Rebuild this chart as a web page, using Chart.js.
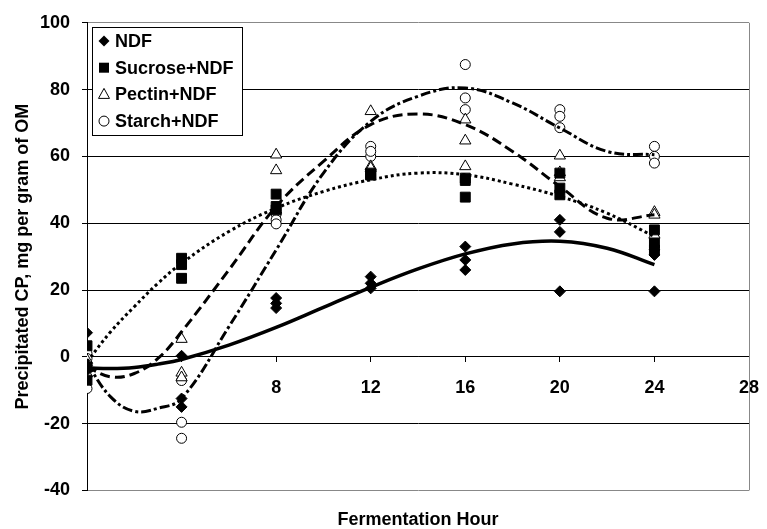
<!DOCTYPE html>
<html>
<head>
<meta charset="utf-8">
<script src="https://cdn.jsdelivr.net/npm/chart.js@4.4.1/dist/chart.umd.min.js"></script>
<style>
    html, body { margin: 0; padding: 0; background: #fff; }
</style>
</head>
<body>
<canvas id="myChart" width="767" height="529"></canvas>
<script>
const hours = [0, 4, 8, 12, 16, 20, 24];
const xTicks = [8, 12, 16, 20, 24, 28];
const seriesNames = ['NDF', 'Sucrose+NDF', 'Pectin+NDF', 'Starch+NDF'];

// replicate readings, one small array per hour
const ndfValues = [[7.2, -2.5, -4], [0.3, -12.5, -15], [17.6, 14.6, 16], [24, 22, 20.5], [33, 29, 26], [41, 37.4, 19.6], [32, 30.5, 19.6]];
const sucroseValues = [[3.3, -3, -7], [29.5, 27.6, 23.5], [48.7, 45, 44], [54.6, 55, 54.4], [52.8, 53.5, 47.8], [55, 50.5, 48.5], [38, 34, 32]];
const pectinValues = [[-1, -3, -5], [5.3, -4.8, -6.2], [60.5, 55.8, 44], [73.5, 57, 56.5], [71, 64.7, 57], [60.2, 55.2, 53.7], [43.3, 42.5, 36.5]];
const starchValues = [[1, -0.5, -9.5], [-7.1, -19.6, -24.4], [42.7, 41, 39.8], [63, 60, 61.5], [87.5, 77.5, 74], [74, 72, 68.6], [63, 60, 58]];

// trend lines
const trendHours = [0, 1, 2, 3, 4, 6, 8, 10, 12, 14, 16, 18, 20, 22, 24];
const ndfTrend = [-3.3, -3.5, -3.2, -2.2, -0.8, 3.5, 8.8, 14.8, 20.8, 26.3, 30.8, 33.8, 34.6, 32.5, 27.6];
const sucroseTrend = [-1.5, 7.5, 15, 22, 28, 37.5, 44.5, 49.5, 53, 55, 54.5, 51.7, 48, 43, 36];
const pectinTrend = [-3, -6, -5, -0.5, 7.5, 26, 45, 58.5, 69.5, 72.7, 69.5, 61.5, 51, 41.5, 42.5];
const starchTrend = [-2, -12, -16.3, -15.4, -12.5, 9, 32, 55, 70.5, 78, 80.5, 76, 68.5, 61.5, 60.5];

const fontFamily = '"Liberation Sans", Arial, sans-serif';
const boldFont = { family: fontFamily, size: 18, weight: 'bold' };


function toPoints(values) {
    let points = [];
    for (let i = 0; i < hours.length; i++) {
        for (let v of values[i]) {
            points.push({ x: hours[i], y: v });
        }
    }
    return points;
}


function toLine(values) {
    return trendHours.map((h, i) => ({ x: h, y: values[i] }));
}


function trendDataset(values, dash, width) {
    return {
        data: toLine(values),
        showLine: true,
        pointRadius: 0,
        borderColor: '#000',
        borderWidth: width,
        borderDash: dash,
        tension: 0.4,
        fill: false
    };
}


function pointDataset(name, values, style, radius, fill) {
    return {
        label: name,
        data: toPoints(values),
        showLine: false,
        pointStyle: style,
        pointRadius: radius,
        pointBackgroundColor: fill,
        pointBorderColor: '#000',
        pointBorderWidth: 1
    };
}

/*Marker drawing for the legend*/

function drawMarker(ctx, style, x, y) {
    ctx.beginPath();
    if (style === 'diamond') {
        ctx.moveTo(x, y - 5.5); ctx.lineTo(x + 5.5, y); ctx.lineTo(x, y + 5.5); ctx.lineTo(x - 5.5, y);
        ctx.closePath();
        ctx.fillStyle = '#000'; ctx.fill();
    } else if (style === 'square') {
        ctx.rect(x - 5, y - 5, 10, 10);
        ctx.fillStyle = '#000'; ctx.fill();
    } else if (style === 'triangle') {
        ctx.moveTo(x, y - 6); ctx.lineTo(x + 5.5, y + 4); ctx.lineTo(x - 5.5, y + 4);
        ctx.closePath();
        ctx.fillStyle = '#fff'; ctx.fill(); ctx.stroke();
    } else {
        ctx.arc(x, y, 5, 0, Math.PI * 2);
        ctx.fillStyle = '#fff'; ctx.fill(); ctx.stroke();
    }
}

const legendStyles = ['diamond', 'square', 'triangle', 'circle'];

const legendBox = {
    id: 'legendBox',
    afterDraw(chart) {
        const ctx = chart.ctx;
        const area = chart.chartArea;
        const x = Math.round(area.left) + 5;
        const y = Math.round(area.top) + 4;
        ctx.save();
        ctx.fillStyle = '#fff';
        ctx.fillRect(x, y, 150, 108);
        ctx.strokeStyle = '#000';
        ctx.lineWidth = 1;
        ctx.strokeRect(x + 0.5, y + 0.5, 150, 108);
        ctx.font = 'bold 18px ' + fontFamily;
        ctx.textBaseline = 'middle';
        for (let i = 0; i < seriesNames.length; i++) {
            const rowY = y + 14 + i * 26.7;
            drawMarker(ctx, legendStyles[i], x + 12, rowY);
            ctx.fillStyle = '#000';
            ctx.fillText(seriesNames[i], x + 23, rowY + 1);
        }
        ctx.restore();
    }
};

const plotBorder = {
    id: 'plotBorder',
    beforeDatasetsDraw(chart) {
        const ctx = chart.ctx;
        const area = chart.chartArea;
        const r = Math.round(area.right) + 0.5;
        ctx.save();
        ctx.strokeStyle = '#888';
        ctx.lineWidth = 1;
        ctx.beginPath();
        ctx.moveTo(r, area.top);
        ctx.lineTo(r, area.bottom);
        ctx.stroke();
        ctx.restore();
    }
};

/*Chart Section*/

new Chart(document.getElementById('myChart'), {
    type: 'scatter',
    data: {
        datasets: [
            trendDataset(ndfTrend, [], 3.5),
            trendDataset(sucroseTrend, [3, 3], 3),
            trendDataset(pectinTrend, [10, 5], 3),
            trendDataset(starchTrend, [10, 3, 3, 3], 3),
            pointDataset(seriesNames[0], ndfValues, 'rectRot', 5.5, '#000'),
            pointDataset(seriesNames[1], sucroseValues, 'rect', 7, '#000'),
            pointDataset(seriesNames[2], pectinValues, 'triangle', 6.5, '#fff'),
            pointDataset(seriesNames[3], starchValues, 'circle', 5, '#fff')
        ]
    },
    options: {
        responsive: false,
        animation: false,
        layout: { padding: { top: 19, right: 18, left: 0, bottom: 0 } },
        plugins: {
            legend: { display: false },
            tooltip: { enabled: false },
            title: {
                display: true,
                text: 'Fermentation Hour',
                position: 'bottom',
                fullSize: false,
                color: '#000',
                font: boldFont,
                padding: { top: 19, bottom: -2 }
            }
        },
        scales: {
            x: {
                type: 'linear',
                position: { y: 0 },
                min: 0,
                max: 28,
                afterBuildTicks: s => { s.ticks = hours.concat([28]).map(v => ({ value: v })); },
                afterFit: s => { s.paddingLeft = 0; s.paddingRight = 0; },
                ticks: {
                    color: '#000',
                    font: boldFont,
                    padding: 15,
                    maxRotation: 0,
                    callback: v => xTicks.includes(v) ? v : ''
                },
                grid: { drawOnChartArea: false, drawTicks: true, tickLength: 5, color: '#000' },
                border: { color: '#000', width: 1 }
            },
            y: {
                min: -40,
                max: 100,
                ticks: { stepSize: 20, color: '#000', font: boldFont, padding: 12 },
                grid: {
                    color: c => (c.tick && (c.tick.value === 100 || c.tick.value === -40)) ? '#888' : '#000',
                    tickColor: '#000',
                    tickLength: 5,
                    lineWidth: 1
                },
                border: { color: '#000', width: 1 },
                title: {
                    display: true,
                    text: 'Precipitated CP, mg per gram of OM',
                    color: '#000',
                    font: boldFont,
                    padding: { top: 12, bottom: 0 }
                },
                afterFit: s => { s.width = 87; }
            }
        }
    },
    plugins: [plotBorder, legendBox]
});
</script>
</body>
</html>
